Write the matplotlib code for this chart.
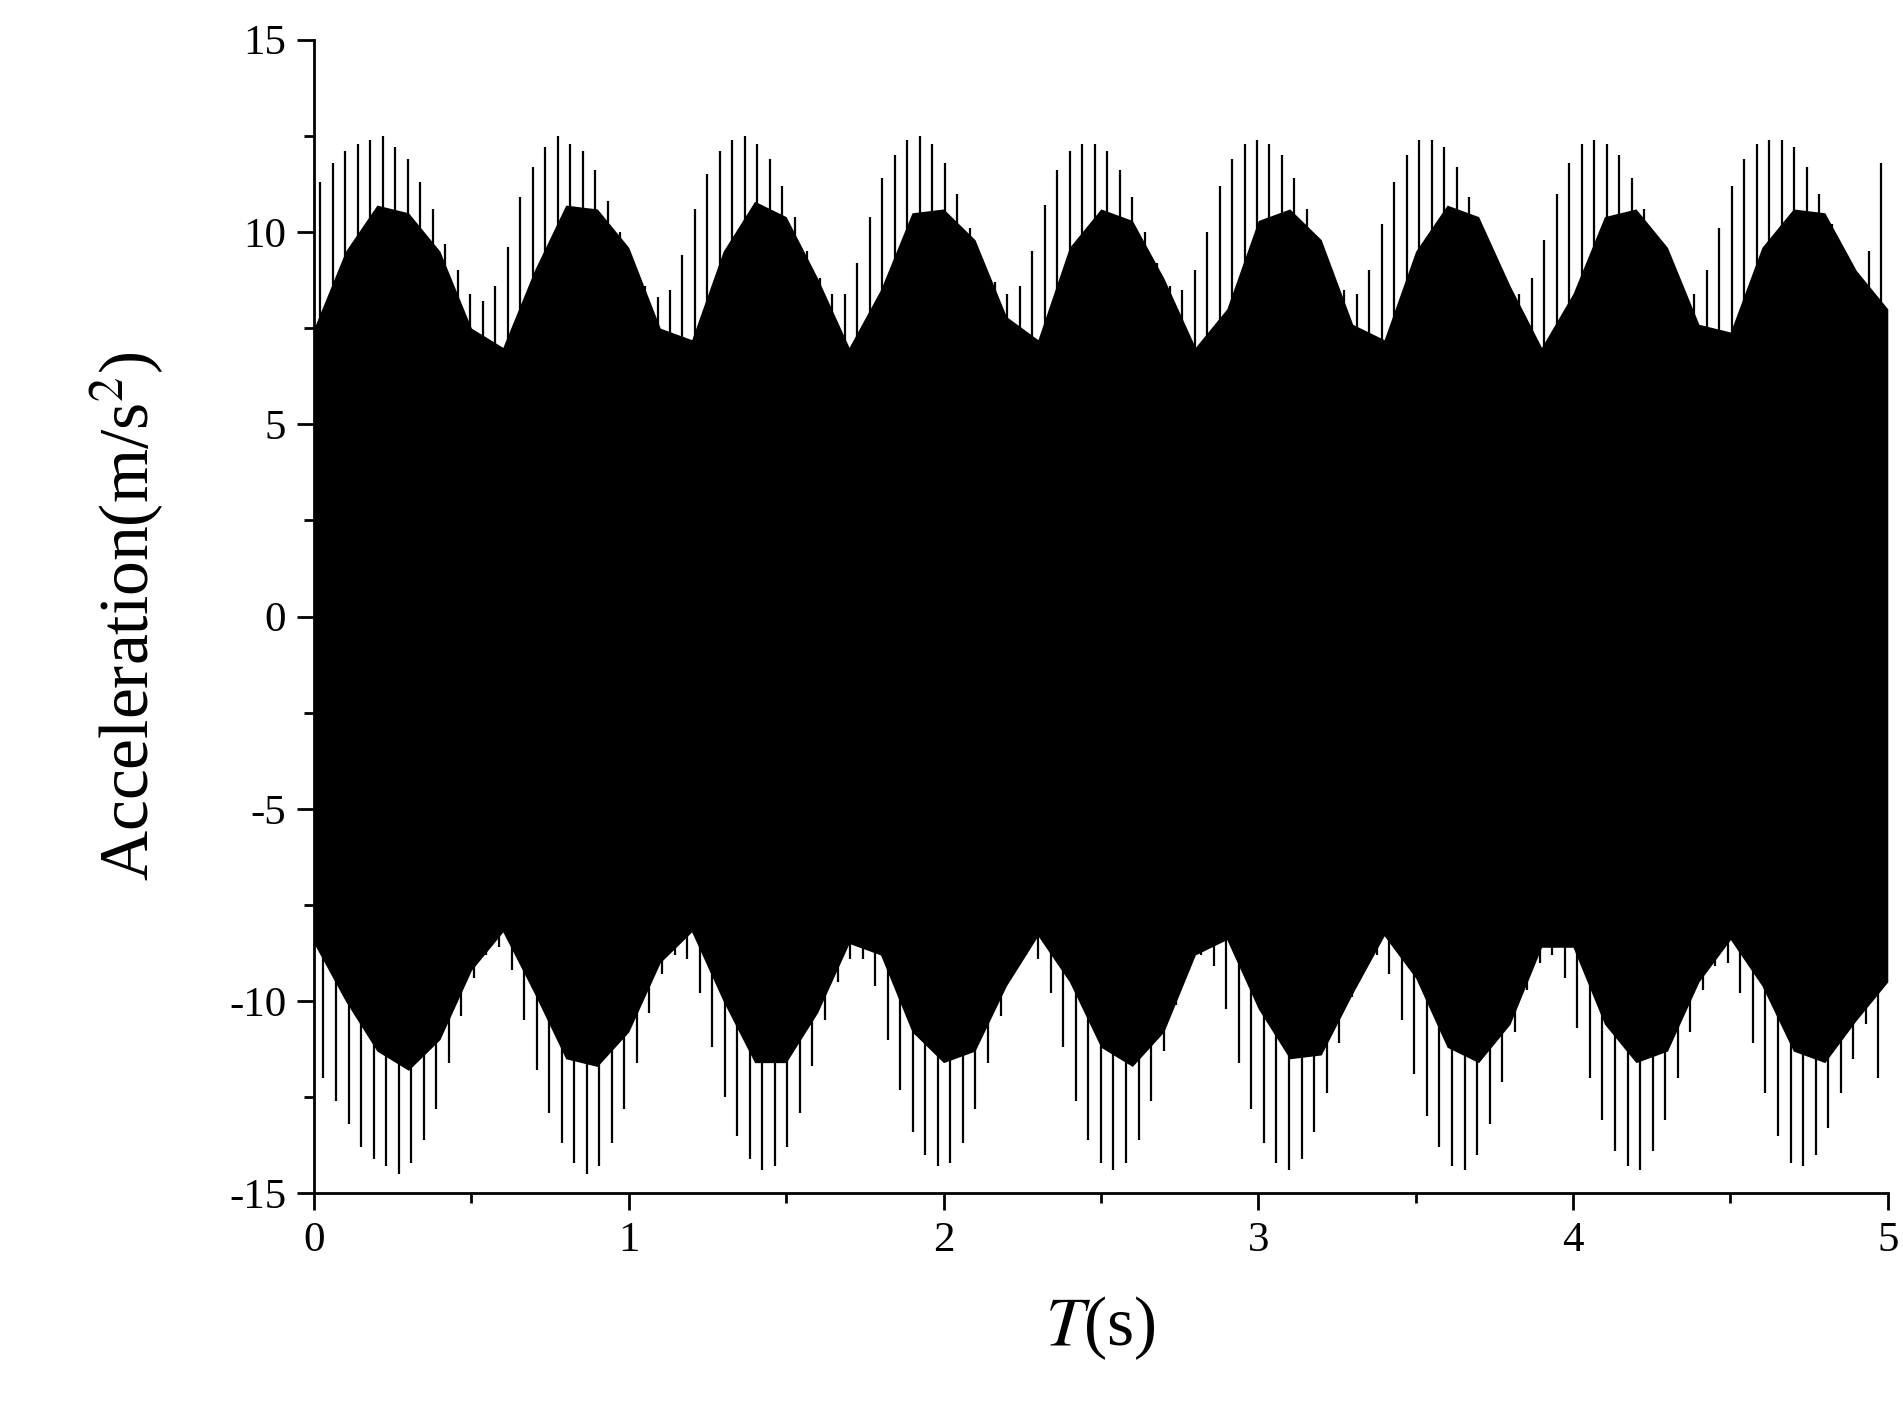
import numpy as np
import matplotlib
matplotlib.use("Agg")
import matplotlib.pyplot as plt
from matplotlib.ticker import MultipleLocator

spike_top = [11.3, 11.8, 12.1, 12.3, 12.4, 12.5, 12.2, 11.9, 11.3, 10.6, 9.7, 9.0, 8.4, 8.2, 8.6, 9.6, 10.9, 11.7, 12.2, 12.5,
             12.3, 12.1, 11.6, 10.8, 10.0, 9.2, 8.6, 8.3, 8.5, 9.4, 10.6, 11.5, 12.1, 12.4, 12.5, 12.3, 11.9, 11.2, 10.4, 9.5,
             8.8, 8.4, 8.4, 9.2, 10.4, 11.4, 12.0, 12.4, 12.5, 12.3, 11.8, 11.0, 10.1, 9.3, 8.7, 8.4, 8.6, 9.5, 10.7, 11.6,
             12.1, 12.3, 12.3, 12.1, 11.6, 10.9, 10.0, 9.2, 8.6, 8.5, 9.0, 10.0, 11.2, 11.9, 12.3, 12.4, 12.3, 12.0, 11.4, 10.6,
             9.7, 9.0, 8.5, 8.4, 9.0, 10.2, 11.3, 12.0, 12.4, 12.4, 12.2, 11.7, 10.9, 10.1, 9.3, 8.7, 8.4, 8.8, 9.8, 11.0,
             11.8, 12.3, 12.4, 12.3, 12.0, 11.4, 10.6, 9.7, 9.0, 8.5, 8.4, 9.0, 10.1, 11.2, 11.9, 12.3, 12.4, 12.4, 12.2, 11.7,
             11.0, 10.2, 9.4, 8.8, 9.5, 11.8]
spike_bot = [-12.0, -12.6, -13.2, -13.8, -14.1, -14.3, -14.5, -14.2, -13.6, -12.8, -11.6, -10.4, -9.4, -8.8, -8.6, -9.2, -10.5,
             -11.8, -12.9, -13.7, -14.2, -14.5, -14.3, -13.7, -12.8, -11.6, -10.3, -9.3, -8.8, -8.9, -9.8, -11.2, -12.5, -13.5,
             -14.1, -14.4, -14.3, -13.8, -12.9, -11.7, -10.5, -9.5, -8.9, -8.9, -9.6, -11.0, -12.3, -13.4, -14.0, -14.3, -14.2,
             -13.7, -12.8, -11.6, -10.4, -9.3, -8.8, -8.9, -9.8, -11.2, -12.6, -13.6, -14.2, -14.4, -14.2, -13.6, -12.6, -11.3,
             -10.1, -9.2, -8.8, -9.1, -10.2, -11.6, -12.8, -13.7, -14.2, -14.4, -14.1, -13.4, -12.4, -11.1, -9.9, -9.1, -8.8,
             -9.3, -10.5, -11.9, -13.0, -13.8, -14.3, -14.4, -14.0, -13.2, -12.1, -10.8, -9.7, -9.0, -8.8, -9.4, -10.7, -12.0,
             -13.1, -13.9, -14.3, -14.4, -13.9, -13.1, -12.0, -10.8, -9.7, -9.1, -9.0, -9.8, -11.1, -12.4, -13.5, -14.2, -14.3,
             -14.0, -13.3, -12.4, -11.5, -10.6, -12.0]
band_top = [7.5, 9.5, 10.7, 10.5, 9.5, 7.5, 7.0, 9.0, 10.7, 10.6, 9.6, 7.5, 7.2, 9.5, 10.8, 10.4, 8.8, 7.0, 8.5, 10.5, 10.6,
            9.8, 7.8, 7.2, 9.6, 10.6, 10.3, 8.8, 7.0, 8.0, 10.3, 10.6, 9.8, 7.6, 7.2, 9.5, 10.7, 10.4, 8.6, 7.0, 8.4, 10.4,
            10.6, 9.6, 7.6, 7.4, 9.6, 10.6, 10.5, 9.0, 8.0]
band_bot = [-8.5, -10.0, -11.3, -11.8, -11.0, -9.2, -8.2, -9.8, -11.5, -11.7, -10.8, -9.0, -8.2, -10.0, -11.6, -11.6, -10.3,
            -8.5, -8.8, -10.8, -11.6, -11.3, -9.6, -8.3, -9.5, -11.2, -11.7, -10.8, -8.8, -8.4, -10.2, -11.5, -11.4, -9.8,
            -8.3, -9.4, -11.2, -11.6, -10.6, -8.6, -8.6, -10.6, -11.6, -11.3, -9.5, -8.4, -9.6, -11.3, -11.6, -10.5, -9.5]

plt.rcParams['font.family'] = ['Liberation Serif', 'DejaVu Serif']
plt.rcParams['mathtext.fontset'] = 'stix'
plt.rcParams['axes.unicode_minus'] = False
fig = plt.figure(figsize=(19.03, 14.19), dpi=100)
ax = fig.add_axes([0.165, 0.159, 0.827, 0.813])

tb = np.linspace(0, 5, len(band_top))
ax.fill_between(tb, band_bot, band_top, color='black', lw=0)
ts = np.linspace(0.02, 4.98, len(spike_top))
ax.vlines(ts, 0, spike_top, color='black', lw=1.6)
tl = np.linspace(0.03, 4.97, len(spike_bot))
ax.vlines(tl, spike_bot, 0, color='black', lw=1.6)

ax.set_xlim(0, 5)
ax.set_ylim(-15, 15)
ax.xaxis.set_major_locator(MultipleLocator(1))
ax.xaxis.set_minor_locator(MultipleLocator(0.5))
ax.yaxis.set_major_locator(MultipleLocator(5))
ax.yaxis.set_minor_locator(MultipleLocator(2.5))
for s in ['top', 'right']:
    ax.spines[s].set_visible(False)
for s in ['left', 'bottom']:
    ax.spines[s].set_linewidth(2)
ax.tick_params(which='major', length=12, width=2, labelsize=31, direction='out', pad=8)
ax.tick_params(which='minor', length=7, width=2, direction='out')
ax.set_xlabel(r'$T$(s)', fontsize=50, labelpad=25)
ax.set_ylabel(r'Acceleration(m/s$^2$)', fontsize=50, labelpad=45)
fig.savefig('out.png', dpi=100)
